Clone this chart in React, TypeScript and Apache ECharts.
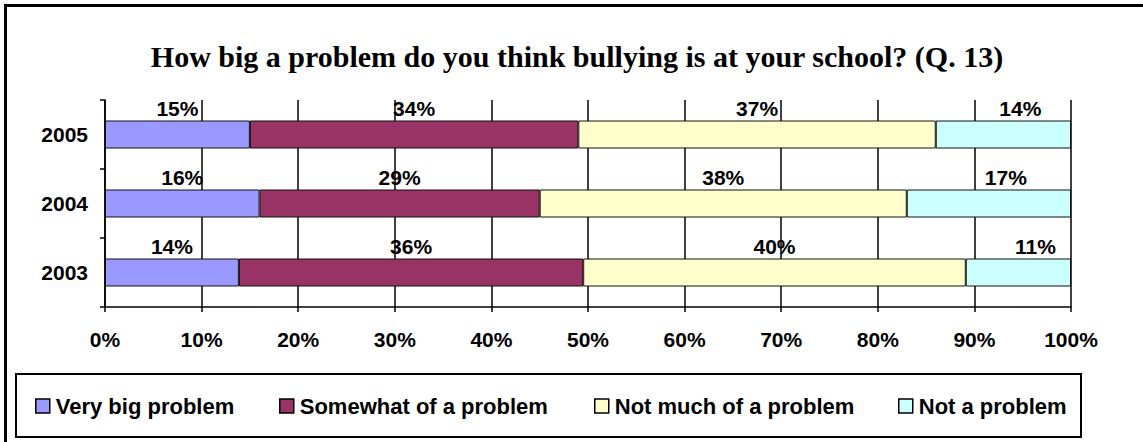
import React, { useEffect, useRef } from "react";
import * as echarts from "echarts";

const categories = ["2003", "2004", "2005"];
const seriesNames = ["Very big problem", "Somewhat of a problem", "Not much of a problem", "Not a problem"];
const veryBig = [14, 16, 15];
const somewhat = [36, 29, 34];
const notMuch = [40, 38, 37];
const notAProblem = [11, 17, 14];
const xTickValues = [0, 10, 20, 30, 40, 50, 60, 70, 80, 90, 100];

const colors = ["#9999FF", "#993366", "#FFFFCC", "#CCFFFF"];
const legendLefts = [35, 279, 594, 898];

export default function App() {
  const ref = useRef<HTMLDivElement>(null);

  useEffect(() => {
    if (!ref.current) return;
    const chart = echarts.init(ref.current, null, { renderer: "svg" });
    const raw = [veryBig, somewhat, notMuch, notAProblem];
    const totals = categories.map((_, i) => raw.reduce((s, arr) => s + arr[i], 0));
    const sans = "Liberation Sans, Arial, sans-serif";

    const series = raw.map((arr, si) => ({
      name: seriesNames[si],
      type: "bar",
      stack: "total",
      barWidth: 28,
      data: arr.map((v, i) => (v / totals[i]) * 100),
      itemStyle: { color: colors[si], borderColor: "#111", borderWidth: 1 },
      label: {
        show: true,
        position: "top",
        distance: 2,
        offset: si === 3 ? [17, 0] : [0, 0],
        color: "#000",
        fontSize: 21,
        fontWeight: "bold",
        fontFamily: sans,
        formatter: (p: any) => arr[p.dataIndex] + "%",
      },
    }));

    const legends = seriesNames.map((n, i) => ({
      data: [n],
      left: legendLefts[i],
      top: 395,
      padding: 0,
      itemGap: 0,
      itemWidth: 14,
      itemHeight: 14,
      icon: "rect",
      itemStyle: { borderColor: "#000", borderWidth: 1.5 },
      textStyle: { color: "#000", fontSize: 22, fontWeight: "bold", fontFamily: sans, padding: [0, 0, 0, 1] },
      selectedMode: false,
    }));

    chart.setOption({
      animation: false,
      backgroundColor: "#fff",
      title: {
        text: "How big a problem do you think bullying is at your school? (Q. 13)",
        left: 572,
        textAlign: "center",
        top: 36,
        textStyle: { fontFamily: "Liberation Serif, Times New Roman, serif", fontSize: 30, fontWeight: "bold", color: "#000" },
      },
      legend: legends,
      grid: { left: 105, right: 72, top: 100, bottom: 135, containLabel: false },
      xAxis: {
        type: "value",
        min: xTickValues[0],
        max: xTickValues[xTickValues.length - 1],
        interval: xTickValues[1] - xTickValues[0],
        axisLine: { show: true, lineStyle: { color: "#000", width: 1.5 } },
        axisTick: { show: true, length: 5, lineStyle: { color: "#000", width: 1.5 } },
        splitLine: { show: true, lineStyle: { color: "#000", width: 1.5 } },
        axisLabel: { formatter: "{value}%", color: "#000", fontSize: 21, fontWeight: "bold", fontFamily: sans, margin: 22 },
      },
      yAxis: {
        type: "category",
        data: categories,
        axisLine: { show: true, lineStyle: { color: "#000", width: 1.5 } },
        axisTick: { show: true, length: 5, alignWithLabel: false, lineStyle: { color: "#000", width: 1.5 } },
        axisLabel: { color: "#000", fontSize: 21, fontWeight: "bold", fontFamily: sans, margin: 17 },
        splitLine: { show: false },
      },
      series,
      graphic: [
        { type: "line", shape: { x1: 5.5, y1: 4, x2: 5.5, y2: 442 }, style: { stroke: "#000", lineWidth: 3 } },
        { type: "line", shape: { x1: 4, y1: 5.5, x2: 1143, y2: 5.5 }, style: { stroke: "#000", lineWidth: 3 } },
        { type: "rect", shape: { x: 16, y: 374, width: 1065, height: 63 }, style: { fill: "none", stroke: "#000", lineWidth: 2 } },
      ],
    });
    return () => chart.dispose();
  }, []);

  return <div ref={ref} style={{ position: "fixed", left: 0, top: 0, width: 1143, height: 442 }} />;
}
